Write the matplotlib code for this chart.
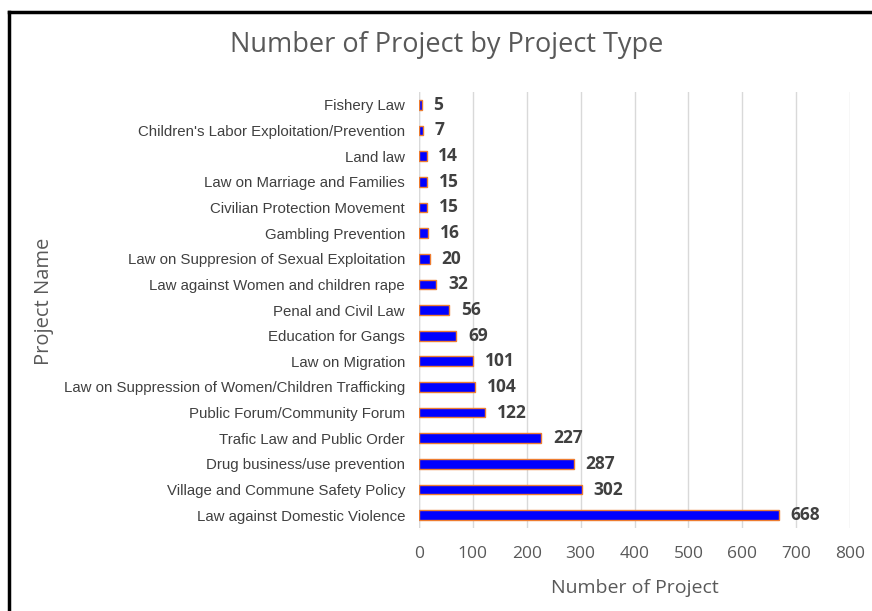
import matplotlib.pyplot as plt
from matplotlib.lines import Line2D

names = ["Fishery Law", "Children's Labor Exploitation/Prevention", "Land law",
         "Law on Marriage and Families", "Civilian Protection Movement",
         "Gambling Prevention", "Law on Suppresion of Sexual Exploitation",
         "Law against Women and children rape", "Penal and Civil Law",
         "Education for Gangs", "Law on Migration",
         "Law on Suppression of Women/Children Trafficking",
         "Public Forum/Community Forum", "Trafic Law and Public Order",
         "Drug business/use prevention", "Village and Commune Safety Policy",
         "Law against Domestic Violence"]
counts = [5, 7, 14, 15, 15, 16, 20, 32, 56, 69, 101, 104, 122, 227, 287, 302, 668]
xticks = [0, 100, 200, 300, 400, 500, 600, 700, 800]

narrow = "Liberation Sans"
main = "Open Sans"

fig = plt.figure(figsize=(8.72, 6.11), dpi=100)
ax = fig.add_axes([0.4805, 0.1358, 0.4943, 0.7136])

# first item drawn at the top
ypos = list(range(len(names)))[::-1]
ax.barh(ypos, counts, height=0.38, color="#0000ff", edgecolor="#ed7d31", linewidth=1.0, zorder=3)
for y, v in zip(ypos, counts):
    ax.text(v + 22, y, str(v), va="center", ha="left", fontsize=12.5,
            fontweight="bold", color="#404040", family=main)

ax.set_xlim(0, 800)
ax.set_ylim(-0.5, len(names) - 0.5)
ax.set_xticks(xticks)
ax.set_xticklabels([str(t) for t in xticks], family=main, fontsize=12.5, color="#595959")
ax.set_yticks(ypos)
ax.set_yticklabels(names, family=narrow, fontsize=10.8, color="#404040")
ax.tick_params(axis="x", length=0, pad=13)
ax.tick_params(axis="y", length=0, pad=10)
ax.grid(axis="x", color="#d9d9d9", linewidth=1, zorder=0)
for s in ax.spines.values():
    s.set_visible(False)
ax.axvline(0, color="#d9d9d9", linewidth=1, zorder=2)

ax.set_xlabel("Number of Project", family=main, fontsize=14, color="#595959", labelpad=12)
fig.text(0.05, 0.506, "Project Name", rotation=90, va="center", ha="center",
         family=main, fontsize=14.5, color="#595959")
fig.text(0.512, 0.926, "Number of Project by Project Type", ha="center", va="center",
         family=main, fontsize=19.5, color="#595959")

# frame (only left and top edges visible in the crop)
fig.add_artist(Line2D([0.0098, 0.0098], [0, 0.981], color="black", linewidth=2.5, transform=fig.transFigure))
fig.add_artist(Line2D([0.0098, 1.0], [0.981, 0.981], color="black", linewidth=2.5, transform=fig.transFigure))

fig.savefig("out.png", dpi=100)
